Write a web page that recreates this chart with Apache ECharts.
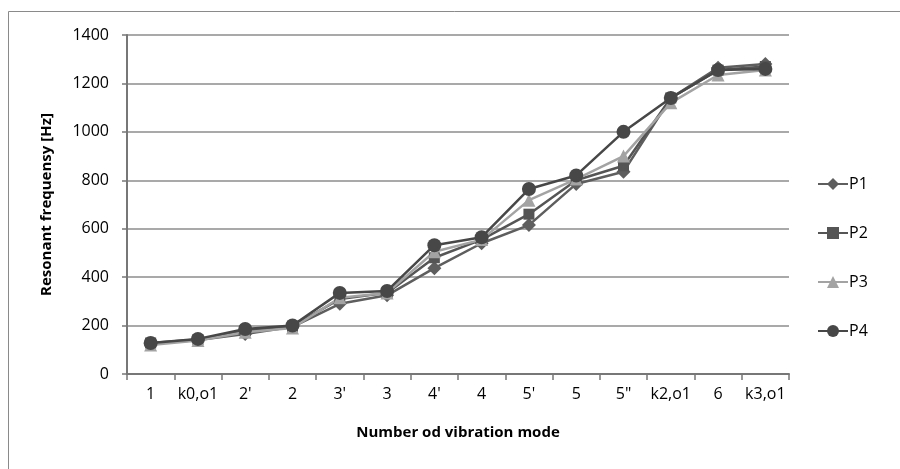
<!DOCTYPE html>
<html>
<head>
<meta charset="utf-8">
<script src="https://cdn.jsdelivr.net/npm/echarts@6/dist/echarts.min.js"></script>
<style>
  html, body { margin: 0; padding: 0; background: #fff; }
  #chart { width: 900px; height: 469px; }
</style>
</head>
<body>
<div id="chart"></div>
<script>
// modes on the x axis
var modes = ["1", "k0,o1", "2'", "2", "3'", "3", "4'", "4", "5'", "5", "5\"", "k2,o1", "6", "k3,o1"];
// resonant frequency [Hz] per position
var p1 = [125, 140, 165, 195, 290, 325, 437, 540, 615, 785, 835, 1140, 1265, 1280];
var p2 = [128, 142, 178, 197, 310, 335, 480, 555, 660, 800, 860, 1140, 1255, 1270];
var p3 = [120, 138, 172, 190, 315, 335, 505, 555, 718, 805, 900, 1120, 1235, 1255];
var p4 = [128, 145, 186, 200, 335, 343, 532, 565, 764, 820, 1000, 1140, 1255, 1260];

var font = "'Open Sans', Lato, sans-serif";

function line(name, data, symbol, size, color) {
  return {
    name: name,
    type: "line",
    data: data,
    symbol: symbol,
    symbolSize: size,
    itemStyle: { color: color },
    lineStyle: { color: color, width: 2.5 },
    emphasis: { disabled: true },
  };
}

var chart = echarts.init(document.getElementById("chart"));
chart.setOption({
  animation: false,
  backgroundColor: "#fff",
  graphic: [
    {
      type: "rect",
      shape: { x: 8.5, y: 11.5, width: 1000, height: 1000 },
      style: { fill: "none", stroke: "#8a8a8a", lineWidth: 1 },
      silent: true,
    },
  ],
  grid: { left: 127, top: 35, right: 111, bottom: 95 },
  legend: {
    orient: "vertical",
    left: 812,
    top: 171,
    itemGap: 33,
    itemWidth: 30,
    itemHeight: 15,
    textStyle: { fontFamily: font, fontSize: 16, color: "#000", padding: [0, 0, 0, -4] },
    data: ["P1", "P2", "P3", "P4"],
  },
  xAxis: {
    type: "category",
    data: modes,
    boundaryGap: true,
    name: "Number od vibration mode",
    nameLocation: "middle",
    nameGap: 51,
    nameTextStyle: { fontFamily: font, fontSize: 15, fontWeight: "bold", color: "#000" },
    axisLine: { lineStyle: { color: "#777", width: 2 } },
    axisTick: { show: true, alignWithLabel: false, length: 6, lineStyle: { color: "#777", width: 1.5 } },
    axisLabel: { fontFamily: font, fontSize: 16, color: "#000", margin: 12, interval: 0 },
    splitLine: { show: false },
  },
  yAxis: {
    type: "value",
    min: 0,
    max: 1400,
    interval: 200,
    name: "Resonant frequensy [Hz]",
    nameLocation: "middle",
    nameGap: 73,
    nameTextStyle: { fontFamily: font, fontSize: 15, fontWeight: "bold", color: "#000" },
    axisLine: { show: true, lineStyle: { color: "#777", width: 2 } },
    axisTick: { show: true, length: 5, lineStyle: { color: "#777", width: 1.5 } },
    axisLabel: { fontFamily: font, fontSize: 16, color: "#000", margin: 18, formatter: function (v) { return String(v); } },
    splitLine: { show: true, lineStyle: { color: "#8c8c8c", width: 1.5 } },
  },
  series: [
    line("P1", p1, "diamond", 14, "#5e5e5e"),
    line("P2", p2, "rect", 11, "#555555"),
    line("P3", p3, "triangle", 13, "#a3a3a3"),
    line("P4", p4, "circle", 14, "#474747"),
  ],
});
</script>
</body>
</html>
